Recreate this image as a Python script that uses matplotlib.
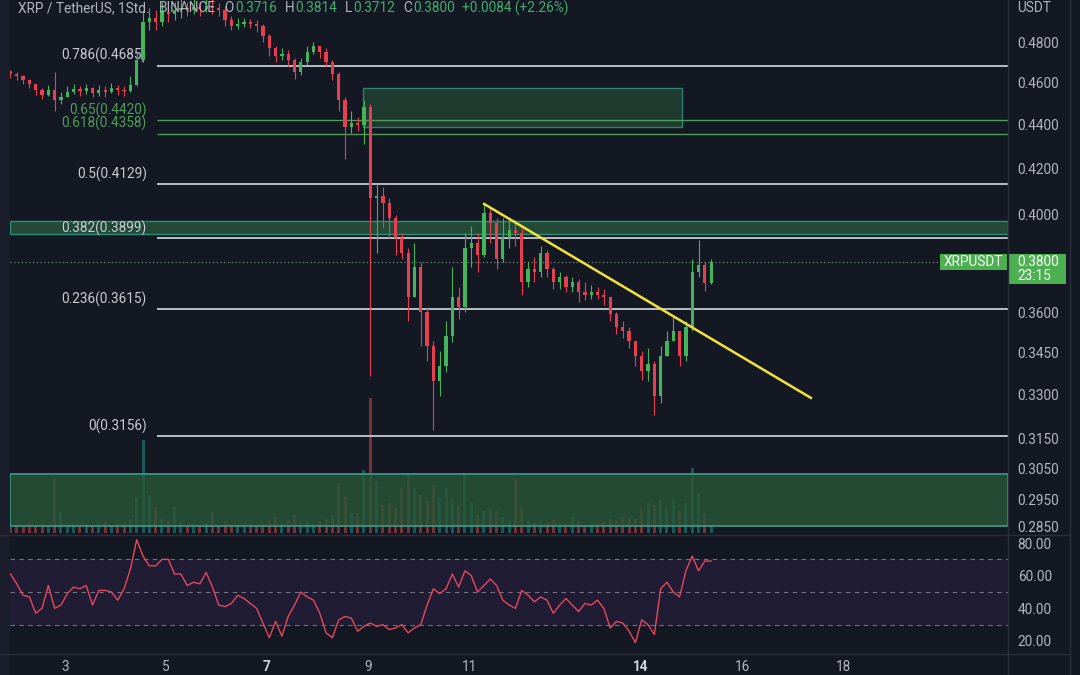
import matplotlib
matplotlib.use("Agg")
import matplotlib.pyplot as plt
import matplotlib.patches as mp
from matplotlib.lines import Line2D
from matplotlib.colors import to_rgba
from matplotlib.ticker import NullLocator
import numpy as np

plt.rcParams['font.family'] = ['Roboto', 'DejaVu Sans']

# XRP / USDT, 3 hour candles (days of the month on x)
start_day = 1.92
step_day = 0.125
first_open = 0.4660

closes = [
    0.4645, 0.4636, 0.4616, 0.4596, 0.4567, 0.4543, 0.4567, 0.4519, 0.4529, 0.4557,
    0.4572, 0.4562, 0.4577, 0.4552, 0.4567, 0.4557, 0.4577, 0.4567, 0.4562, 0.4591,
    0.4714, 0.4909, 0.4930, 0.4909, 0.4961, 0.4951, 0.4972, 0.4982, 0.4972, 0.4988,
    0.4977, 0.4993, 0.4982, 0.4972, 0.4919, 0.4888, 0.4898, 0.4909, 0.4898, 0.4888,
    0.4836, 0.4776, 0.4735, 0.4745, 0.4714, 0.4655, 0.4704, 0.4755, 0.4786, 0.4755,
    0.4704, 0.4645, 0.4519, 0.4388, 0.4407, 0.4397, 0.4481, 0.4068, 0.4076, 0.4046,
    0.3983, 0.3900, 0.3839, 0.3662, 0.3779, 0.3605, 0.3474, 0.3349, 0.3402, 0.3511,
    0.3662, 0.3624, 0.3859, 0.3879, 0.3827, 0.4004, 0.3962, 0.3811, 0.3900, 0.3933,
    0.3920, 0.3720, 0.3771, 0.3759, 0.3839, 0.3771, 0.3720, 0.3740, 0.3701, 0.3720,
    0.3682, 0.3670, 0.3682, 0.3670, 0.3662, 0.3594, 0.3548, 0.3530, 0.3492, 0.3438,
    0.3384, 0.3409, 0.3296, 0.3438, 0.3492, 0.3530, 0.3438, 0.3548, 0.3759, 0.3787,
    0.3716, 0.3800]
highs = [
    0.4665, 0.4655, 0.4641, 0.4621, 0.4596, 0.4577, 0.4591, 0.4655, 0.4557, 0.4587,
    0.4596, 0.4587, 0.4596, 0.4582, 0.4591, 0.4587, 0.4601, 0.4591, 0.4587, 0.4636,
    0.4755, 0.4961, 0.4983, 0.4972, 0.5014, 0.5003, 0.5014, 0.5030, 0.5014, 0.5030,
    0.5014, 0.5030, 0.5030, 0.5008, 0.4993, 0.4940, 0.4930, 0.4930, 0.4925, 0.4919,
    0.4898, 0.4846, 0.4786, 0.4776, 0.4765, 0.4724, 0.4724, 0.4786, 0.4805, 0.4786,
    0.4776, 0.4714, 0.4655, 0.4529, 0.4463, 0.4435, 0.4519, 0.4500, 0.4132, 0.4119,
    0.4068, 0.3995, 0.3920, 0.3859, 0.3879, 0.3799, 0.3624, 0.3492, 0.3456, 0.3567,
    0.3779, 0.3701, 0.3920, 0.3949, 0.3920, 0.4046, 0.4025, 0.3983, 0.3983, 0.3974,
    0.3974, 0.3941, 0.3799, 0.3819, 0.3867, 0.3850, 0.3779, 0.3759, 0.3748, 0.3740,
    0.3732, 0.3720, 0.3709, 0.3701, 0.3693, 0.3662, 0.3605, 0.3567, 0.3548, 0.3492,
    0.3456, 0.3467, 0.3420, 0.3474, 0.3530, 0.3586, 0.3530, 0.3567, 0.3811, 0.3892,
    0.3799, 0.3814]
lows = [
    0.4626, 0.4616, 0.4596, 0.4577, 0.4543, 0.4524, 0.4538, 0.4463, 0.4500, 0.4529,
    0.4548, 0.4538, 0.4548, 0.4529, 0.4538, 0.4533, 0.4552, 0.4543, 0.4538, 0.4557,
    0.4587, 0.4704, 0.4867, 0.4867, 0.4888, 0.4909, 0.4919, 0.4930, 0.4940, 0.4951,
    0.4940, 0.4961, 0.4951, 0.4940, 0.4888, 0.4867, 0.4872, 0.4883, 0.4878, 0.4857,
    0.4805, 0.4735, 0.4704, 0.4714, 0.4684, 0.4621, 0.4640, 0.4690, 0.4745, 0.4724,
    0.4684, 0.4616, 0.4463, 0.4243, 0.4361, 0.4370, 0.4310, 0.3367, 0.3839, 0.3941,
    0.3900, 0.3827, 0.3811, 0.3567, 0.3662, 0.3474, 0.3420, 0.3177, 0.3296, 0.3380,
    0.3490, 0.3578, 0.3605, 0.3779, 0.3759, 0.3819, 0.3879, 0.3771, 0.3799, 0.3859,
    0.3867, 0.3670, 0.3701, 0.3720, 0.3740, 0.3740, 0.3693, 0.3693, 0.3682, 0.3682,
    0.3643, 0.3651, 0.3655, 0.3655, 0.3632, 0.3567, 0.3518, 0.3503, 0.3467, 0.3402,
    0.3353, 0.3349, 0.3228, 0.3269, 0.3438, 0.3492, 0.3402, 0.3420, 0.3530, 0.3740,
    0.3686, 0.3712]
volumes = [
    6, 8, 6, 10, 7, 9, 8, 55, 21, 8,
    10, 7, 9, 8, 10, 12, 8, 9, 10, 14,
    36, 93, 38, 26, 14, 12, 26, 10, 8, 9,
    7, 10, 21, 8, 12, 9, 8, 7, 9, 8,
    10, 12, 16, 10, 12, 18, 10, 12, 9, 12,
    14, 18, 50, 36, 20, 20, 63, 135, 52, 28,
    30, 25, 45, 58, 45, 38, 32, 48, 35, 45,
    35, 28, 60, 30, 18, 22, 24, 22, 16, 12,
    55, 25, 12, 10, 12, 10, 13, 9, 10, 16,
    12, 8, 9, 10, 12, 14, 13, 16, 15, 14,
    24, 30, 28, 33, 25, 33, 22, 30, 65, 40,
    20, 8]
rsi = [
    61, 55, 48, 47, 37, 40, 54, 40, 42, 49,
    53, 52, 54, 42, 51, 51, 50, 45, 52, 64,
    82, 72, 66, 66, 70, 70, 61, 61, 54, 56,
    55, 62, 53, 42, 41, 43, 48, 46, 43, 40,
    31, 22, 32, 23, 35, 42, 50, 47, 45, 37,
    25, 22, 33, 35, 34, 26, 29, 31, 29, 30,
    27, 28, 30, 25, 28, 30, 42, 52, 49, 52,
    61, 53, 63, 60, 50, 54, 58, 54, 45, 42,
    40, 51, 48, 44, 47, 45, 37, 42, 46, 42,
    38, 43, 42, 45, 40, 28, 32, 31, 26, 19,
    33, 30, 24, 52, 56, 50, 47, 63, 72, 63,
    69, 69]

fib_ratios = ['0', '0.236', '0.382', '0.5', '0.618', '0.65', '0.786']
fib_prices = [0.3156, 0.3615, 0.3899, 0.4129, 0.4358, 0.4420, 0.4685]
fib_green = [False, False, False, False, True, True, False]
fib_start_day = 4.82

supply_box_days = [8.90, 15.22]
supply_box = [0.4389, 0.4575]
resist_band = [0.3916, 0.3971]
demand_band = [0.2869, 0.3032]
trend_days = [11.30, 17.77]
trend_prices = [0.4043, 0.3288]

price_ticks = [0.4800, 0.4600, 0.4400, 0.4200, 0.4000, 0.3600, 0.3450,
               0.3300, 0.3150, 0.3050, 0.2950, 0.2850]
rsi_ticks = [80, 60, 40, 20]
day_labels = ['3', '5', '7', '9', '11', '14', '16', '18']
day_pos = [3, 5, 7, 9, 11, 14.39, 16.41, 18.41]
bold_days = ['7', '14']

BG = '#141823'
TXT = '#b2b5be'
UP = '#45b35a'
DOWN = '#e4404f'
VAL = '#3fae6a'
FIB_W = '#c9cbd1'
FIB_G = '#4f9c58'
SEP = '#2a2e39'
FS = 9.8

W, H = 1080, 675
x_lo, x_hi = 1.911, 21.673


def rect(l, t, r, b):
    return [l / W, 1 - b / H, (r - l) / W, (b - t) / H]


def fig_line(x0, y0, x1, y1, color=SEP, lw=1.0):
    fig.add_artist(Line2D([x0 / W, x1 / W], [1 - y0 / H, 1 - y1 / H],
                          color=color, lw=lw, transform=fig.transFigure))


fig = plt.figure(figsize=(W / 100, H / 100), dpi=100)
fig.patch.set_facecolor(BG)
fig.add_artist(mp.Rectangle((0, 0), 10 / W, 1, transform=fig.transFigure,
                            fc='#1a1e2a', ec='none'))

ax_vol = fig.add_axes(rect(10, 0, 1008, 533), zorder=0)
ax = fig.add_axes(rect(10, 0, 1008, 533), zorder=1)
rax = fig.add_axes(rect(10, 536, 1008, 653), zorder=1)

t = start_day + step_day * np.arange(len(closes))
c = np.array(closes)
o = np.concatenate([[first_open], c[:-1]])
hi = np.array(highs)
lo = np.array(lows)
up = c >= o
cols = np.where(up, UP, DOWN)

# volume
vcols = [to_rgba('#26a69a', 0.45) if u else to_rgba('#ef5350', 0.45) for u in up]
ax_vol.bar(t, volumes, width=0.06, color=vcols)
ax_vol.set_xlim(x_lo, x_hi)
ax_vol.set_ylim(0, max(volumes) * 533 / 135)
ax_vol.axis('off')

# price pane
ax.set_yscale('log')
ax.set_xlim(x_lo, x_hi)
ax.set_ylim(0.2847, 0.5025)
ax.patch.set_alpha(0)
for s in ax.spines.values():
    s.set_visible(False)

ax.axhspan(demand_band[0], demand_band[1], fc=to_rgba('#2a5639', 0.82),
           ec='#3d9e87', lw=1.2, zorder=2)
ax.axhspan(resist_band[0], resist_band[1], fc='#224a36', ec='#2e8f78', lw=1.0, zorder=2)
ax.add_patch(mp.Rectangle((supply_box_days[0], supply_box[0]),
                          supply_box_days[1] - supply_box_days[0],
                          supply_box[1] - supply_box[0],
                          fc='#1f3a2e', ec='#2c8070', lw=1.0, zorder=2))

for r, p, g in zip(fib_ratios, fib_prices, fib_green):
    colr = FIB_G if g else FIB_W
    ax.hlines(p, fib_start_day, x_hi, colors=colr, lw=1.0 if g else 1.3, zorder=3)
    ax.annotate(f'{r}({p:.4f})', (fib_start_day, p), xytext=(-10, 10),
                textcoords='offset pixels', ha='right', va='center',
                color=colr, fontsize=FS)

ax.hlines(c[-1], x_lo, 20.33, colors='#6f8878', lw=0.9,
          linestyles=(0, (1, 2)), zorder=3)

ax.vlines(t, lo, hi, colors=cols, lw=0.8, zorder=4)
body = np.maximum(np.abs(c - o), 0.0005)
ax.bar(t, body, bottom=np.minimum(o, c), width=0.065, color=cols, zorder=5)

ax.plot(trend_days, trend_prices, color='#f2e33c', lw=1.8, zorder=6)

ax.yaxis.tick_right()
ax.set_yticks(price_ticks, labels=[f'{p:.4f}' for p in price_ticks])
ax.yaxis.set_minor_locator(NullLocator())
ax.set_xticks([])
ax.tick_params(axis='y', length=0, pad=7, labelsize=FS, labelcolor=TXT)
# lowest price label sits on the pane border; keep it above the RSI scale
low_tick = ax.yaxis.get_major_ticks()[-1]
low_tick.label1.set_va('baseline')
low_tick.label2.set_va('baseline')

# RSI pane
rax.set_facecolor(BG)
rax.axhspan(30, 70, color='#201c33', zorder=0)
for lvl in (70, 50, 30):
    rax.axhline(lvl, color='#6f7280', lw=0.8, ls=(0, (4, 4)), zorder=1)
rax.plot(t, rsi, color='#e5475f', lw=1.0, zorder=2)
rax.set_xlim(x_lo, x_hi)
rax.set_ylim(12.65, 84.3)
for s in rax.spines.values():
    s.set_visible(False)
rax.yaxis.tick_right()
rax.set_yticks(rsi_ticks, labels=[f'{v:.2f}' for v in rsi_ticks])
rax.set_xticks(day_pos, labels=day_labels)
rax.tick_params(length=0, labelsize=FS, labelcolor=TXT)
rax.tick_params(axis='y', pad=7)
rax.tick_params(axis='x', pad=5)
for lbl in rax.get_xticklabels():
    if lbl.get_text() in bold_days:
        lbl.set_fontweight('bold')
        lbl.set_color('#d1d4dc')

# separators
fig_line(0, 534.5, 1070, 534.5)
fig_line(0, 653.5, 1070, 653.5)
fig_line(1008, 0, 1008, 675)
fig_line(1070, 0, 1070, 675)

# last price labels
ypx = ax.transData.transform((t[-1], c[-1]))[1]
fig.add_artist(mp.Rectangle((940 / W, (ypx - 8) / H), 67 / W, 16 / H,
                            transform=fig.transFigure, fc='#4caf50', ec='none'))
fig.text(973.5 / W, ypx / H, 'XRPUSDT', color='white', fontsize=FS,
         ha='center', va='center')
fig.add_artist(mp.Rectangle((1008 / W, (ypx - 22) / H), 58 / W, 30 / H,
                            transform=fig.transFigure, fc='#4caf50', ec='none'))
fig.text(1017 / W, ypx / H, f'{c[-1]:.4f}', color='white', fontsize=FS, va='center')
fig.text(1017 / W, (ypx - 14) / H, '23:15', color='white', fontsize=FS, va='center')
fig.text(1017 / W, 1 - 1 / H, 'USDT', color=TXT, fontsize=FS, va='top')

# header, pieces laid out one after the other
chg = c[-1] - o[-1]
header = [
    ('XRP / TetherUS, 1Std.', TXT, 9), ('BINANCE', TXT, 9),
    ('O', TXT, 1), (f'{o[-1]:.4f}', VAL, 8),
    ('H', TXT, 1), (f'{hi[-1]:.4f}', VAL, 8),
    ('L', TXT, 1), (f'{lo[-1]:.4f}', VAL, 8),
    ('C', TXT, 1), (f'{c[-1]:.4f}', VAL, 8),
    (f'{chg:+.4f} ({chg / o[-1] * 100:+.2f}%)', VAL, 0),
]
renderer = fig.canvas.get_renderer()
xpos = 18
for txt, colr, gap in header:
    tt = fig.text(xpos / W, 1 - 1 / H, txt, color=colr, fontsize=FS, va='top')
    xpos += tt.get_window_extent(renderer).width + gap

fig.savefig('out.png', dpi=100, facecolor=BG)
